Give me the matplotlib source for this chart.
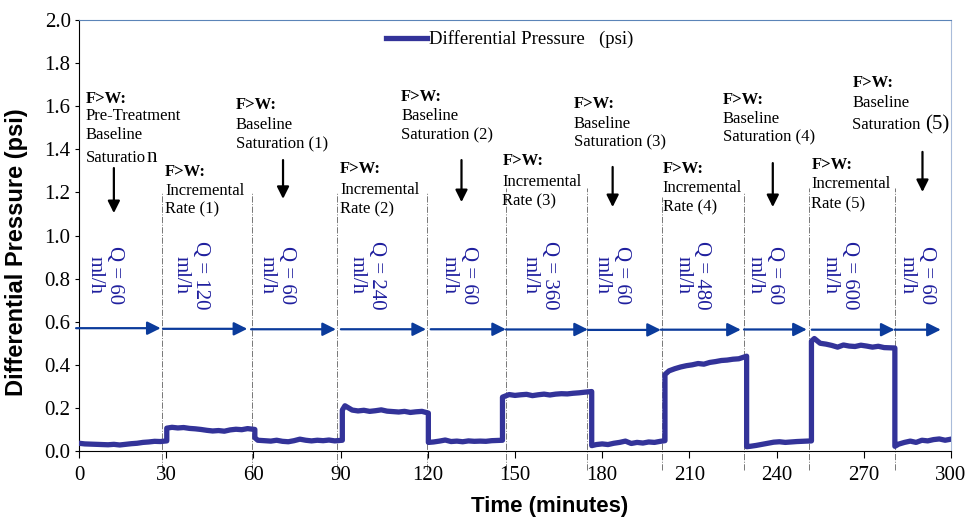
import matplotlib
matplotlib.use('Agg')
import matplotlib.pyplot as plt

plt.rcParams['font.family'] = ['Liberation Serif', 'DejaVu Serif']

# measured differential pressure (psi) vs time (minutes)
time_min = [0, 2, 4, 6, 8, 10, 12, 14, 16, 18, 20, 22, 24, 26, 28, 30.2,
            30.2, 32, 34, 36, 38, 40, 42, 44, 46, 48, 50, 52, 54, 56, 58, 60.5,
            60.5, 61.5, 64, 66, 68, 70, 72, 74, 76, 78, 80, 82, 84, 86, 88, 90.6,
            90.6, 91.5, 94, 96, 98, 100, 102, 104, 106, 108, 110, 112, 114, 116, 118, 120.2,
            120.2, 122, 124, 126, 128, 130, 132, 134, 136, 138, 140, 142, 145.7,
            145.7, 148, 150, 152, 154, 156, 158, 160, 162, 164, 166, 168, 170, 172, 174, 176.4,
            176.4, 178, 180, 182, 184, 186, 188, 190, 192, 194, 196, 198, 200, 201.6,
            201.6, 203, 205, 207, 209, 211, 213, 215, 217, 219, 221, 223, 225, 227, 229.7,
            229.7, 231, 233, 235, 237, 239, 241, 243, 245, 247, 249, 252,
            252, 253, 255, 257, 259, 261, 263, 265, 267, 269, 271, 273, 275, 277, 280.7,
            280.7, 282, 284, 286, 288, 290, 292, 294, 296, 298, 300]
dp_psi = [0.036, 0.033, 0.032, 0.031, 0.030, 0.029, 0.031, 0.028, 0.031, 0.034, 0.036, 0.040, 0.042, 0.045, 0.044, 0.047,
          0.106, 0.110, 0.107, 0.109, 0.105, 0.103, 0.100, 0.096, 0.093, 0.095, 0.092, 0.098, 0.101, 0.099, 0.104, 0.100,
          0.062, 0.050, 0.048, 0.046, 0.050, 0.045, 0.043, 0.048, 0.055, 0.050, 0.047, 0.050, 0.048, 0.051, 0.047, 0.050,
          0.190, 0.210, 0.190, 0.186, 0.189, 0.184, 0.187, 0.191, 0.185, 0.183, 0.181, 0.184, 0.179, 0.182, 0.184, 0.176,
          0.040, 0.042, 0.046, 0.051, 0.044, 0.046, 0.043, 0.047, 0.045, 0.046, 0.045, 0.048, 0.050,
          0.250, 0.262, 0.258, 0.261, 0.263, 0.257, 0.261, 0.264, 0.260, 0.264, 0.266, 0.265, 0.268, 0.270, 0.273, 0.276,
          0.025, 0.030, 0.033, 0.030, 0.036, 0.040, 0.046, 0.035, 0.040, 0.037, 0.042, 0.040, 0.045, 0.048,
          0.355, 0.372, 0.382, 0.390, 0.396, 0.400, 0.406, 0.403, 0.411, 0.415, 0.420, 0.422, 0.426, 0.428, 0.440,
          0.020, 0.022, 0.026, 0.031, 0.036, 0.041, 0.043, 0.040, 0.042, 0.044, 0.045, 0.047,
          0.510, 0.522, 0.500, 0.496, 0.490, 0.482, 0.492, 0.487, 0.485, 0.491, 0.487, 0.482, 0.486, 0.480, 0.478,
          0.022, 0.032, 0.040, 0.046, 0.040, 0.050, 0.047, 0.053, 0.056, 0.050, 0.055]

# stage boundaries (minutes) and flow-rate labels
boundaries = [28.4, 59.4, 88.6, 119.9, 146.8, 174.9, 200.6, 228.8, 251.1, 280.7]
boundary_tops = [1.20, 1.20, 1.20, 1.20, 1.22, 1.22, 1.18, 1.20, 1.22, 1.22]
arrow_starts = [-1.0, 28.9, 59.2, 90.1, 121.0, 146.9, 175.1, 200.2, 228.8, 252.1, 280.6]
arrow_ends = [28.1, 57.9, 88.4, 119.4, 146.9, 175.1, 200.2, 227.7, 250.4, 280.6, 296.5]
arrow_y = [0.570, 0.567, 0.565, 0.565, 0.565, 0.564, 0.562, 0.563, 0.564, 0.563, 0.563]
flow_rates = ['60', '120', '60', '240', '60', '360', '60', '480', '60', '600', '60']
flow_x = [8.9, 38.5, 68.1, 99.0, 130.7, 158.6, 183.4, 211.0, 236.0, 261.8, 288.3]

# stage annotations: (x, [(text, y, bold)], arrow (x, y_top, y_bottom) or None)
stage_notes = [
    (2.4, [('F>W:', 1.633, True), ('Pre-Treatment', 1.555, False), ('Baseline', 1.466, False),
           ('Saturatio|n', 1.36, False)], (12.0, 1.313, 1.104)),
    (29.6, [('F>W:', 1.295, True), ('Incremental', 1.207, False), ('Rate (1)', 1.123, False)], None),
    (54.0, [('F>W:', 1.606, True), ('Baseline', 1.513, False), ('Saturation (1)', 1.425, False)],
     (70.2, 1.35, 1.17)),
    (89.8, [('F>W:', 1.309, True), ('Incremental', 1.211, False), ('Rate (2)', 1.123, False)], None),
    (110.8, [('F>W:', 1.643, True), ('Baseline', 1.555, False), ('Saturation (2)', 1.466, False)],
     (131.6, 1.35, 1.155)),
    (145.7, [('F>W:', 1.346, True), ('Incremental', 1.248, False), ('Rate (3)', 1.16, False)], None),
    (170.3, [('F>W:', 1.61, True), ('Baseline', 1.517, False), ('Saturation (3)', 1.434, False)],
     (183.6, 1.318, 1.132)),
    (200.8, [('F>W:', 1.309, True), ('Incremental', 1.22, False), ('Rate (4)', 1.132, False)], None),
    (221.4, [('F>W:', 1.629, True), ('Baseline', 1.54, False), ('Saturation (4)', 1.457, False)],
     (238.7, 1.336, 1.132)),
    (252.0, [('F>W:', 1.327, True), ('Incremental', 1.239, False), ('Rate (5)', 1.146, False)], None),
    (266.1, [('F>W:', 1.708, True), ('Baseline', 1.615, False), ('Saturation |(5)', 1.513, False)],
     (290.2, 1.388, 1.202)),
]

line_color = '#333399'
arrow_color = '#0B3B9B'
q_color = '#1F1F9E'

fig = plt.figure(figsize=(9.68, 5.18), dpi=100)
ax = fig.add_axes([0.0816, 0.1293, 0.9008, 0.8321])

ax.plot(time_min, dp_psi, color=line_color, lw=3.8, label='Differential Pressure   (psi)',
        solid_joinstyle='round', zorder=3)

for xb, yt in zip(boundaries, boundary_tops):
    ax.plot([xb, xb], [-0.09, yt], color='#777777', lw=0.7, ls='-.', clip_on=False, zorder=1)

for xs, xe, ya in zip(arrow_starts, arrow_ends, arrow_y):
    ax.annotate('', xy=(xe, ya), xytext=(xs, ya), annotation_clip=False,
                arrowprops=dict(arrowstyle='-|>', color=arrow_color, lw=1.6,
                                mutation_scale=20, shrinkA=0, shrinkB=0))

for fx, q in zip(flow_x, flow_rates):
    ax.text(fx, 0.815, 'Q = ' + q + '\nml/h', rotation=270, color=q_color, fontsize=15,
            ha='center', va='center', multialignment='center', linespacing=1.0)

for nx, lines, arr in stage_notes:
    for txt, ny, bold in lines:
        if '|' in txt:
            # last part of this line is set in a larger size
            small, big = txt.split('|')
            t = ax.text(nx, ny, small, fontsize=12, va='center', ha='left')
            ax.annotate(big, xy=(1, 0.5), xycoords=t, fontsize=15, va='center', ha='left')
            continue
        ax.text(nx, ny, txt, fontsize=12, va='center', ha='left',
                fontweight='bold' if bold else 'normal')
    if arr is not None:
        ax.annotate('', xy=(arr[0], arr[2]), xytext=(arr[0], arr[1]),
                    arrowprops=dict(arrowstyle='-|>', color='black', lw=1.6,
                                    mutation_scale=18, shrinkA=0, shrinkB=0))

ax.set_xlim(0, 300)
ax.set_ylim(0, 2.0)
ax.set_xticks(range(0, 301, 30))
ax.set_yticks([i * 0.2 for i in range(11)])
ax.set_yticklabels(['%.1f' % (i * 0.2) for i in range(11)])
ax.tick_params(axis='both', labelsize=15, direction='out')
ax.tick_params(axis='x', length=5, pad=6)
ax.tick_params(axis='y', length=3, pad=3)

ax.spines['top'].set_color('#5B84B8')
ax.spines['right'].set_color('#A9BCDA')
ax.spines['left'].set_color('black')
ax.spines['bottom'].set_color('black')

ax.set_xlabel('Time (minutes)', fontsize=16, fontweight='bold', family='Liberation Sans')
ax.set_ylabel('Differential Pressure (psi)', fontsize=17, fontweight='bold',
              family='Liberation Sans')
ax.xaxis.set_label_coords(0.540, -0.104)
ax.yaxis.set_label_coords(-0.058, 0.462)

ax.legend(loc='upper center', bbox_to_anchor=(0.494, 1.015), frameon=False, fontsize=13.5,
          handlelength=2.2, handletextpad=0.1)

fig.savefig('out.png', dpi=100)
